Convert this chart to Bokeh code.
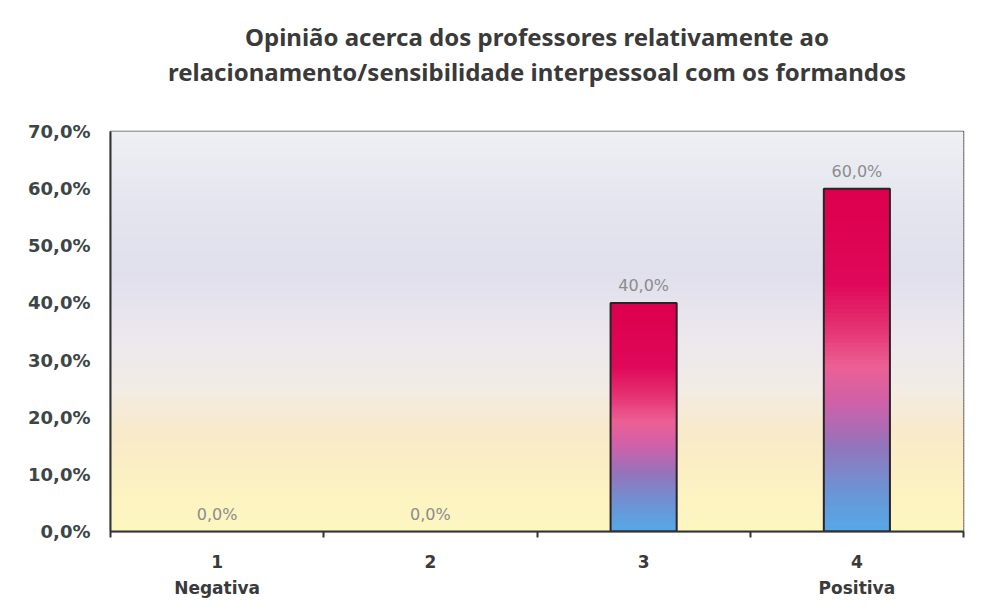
from bokeh.plotting import figure
from bokeh.models import FixedTicker, Range1d, ColumnDataSource, Title
from bokeh.embed import file_html
from bokeh.resources import INLINE
from bokeh.core.properties import value

# ---- data ----
categories = ["1", "2", "3", "4"]
category_notes = ["Negativa", "", "", "Positiva"]
values = [0.0, 0.0, 40.0, 60.0]
y_ticks = [0, 10, 20, 30, 40, 50, 60, 70]
title_lines = ["Opinião acerca dos professores relativamente ao",
               "relacionamento/sensibilidade interpessoal com os formandos"]

# ---- styling helpers ----
def hex2rgb(h):
    h = h.lstrip("#")
    return tuple(int(h[i:i + 2], 16) for i in (0, 2, 4))

def interp(stops, t):
    for (t0, c0), (t1, c1) in zip(stops[:-1], stops[1:]):
        if t0 <= t <= t1:
            f = 0 if t1 == t0 else (t - t0) / (t1 - t0)
            a, b = hex2rgb(c0), hex2rgb(c1)
            return "#%02x%02x%02x" % tuple(int(round(a[k] + (b[k] - a[k]) * f)) for k in range(3))
    return stops[-1][1]

bg_stops = [(0.0, "#fdf7c0"), (0.12, "#fcf1c2"), (0.25, "#f8eaca"), (0.36, "#f2ece6"),
            (0.5, "#ebe7ee"), (0.65, "#e0dfec"), (0.82, "#e5e5ef"), (1.0, "#eef0f3")]
bar_stops = [(0.0, "#55a8e8"), (0.12, "#6c94d4"), (0.25, "#9474bc"), (0.38, "#d060a8"),
             (0.48, "#ec6094"), (0.6, "#e43070"), (0.72, "#e0085a"), (1.0, "#dc004c")]

x = list(range(1, len(categories) + 1))
ymax = y_ticks[-1]

p = figure(width=967, height=605, output_backend="svg", toolbar_location=None,
           x_range=Range1d(0.5, len(categories) + 0.5), y_range=Range1d(0, ymax),
           min_border_left=110, min_border_right=4, min_border_top=20, min_border_bottom=74,
           background_fill_color="white", border_fill_color="white")

# panels stack outward from the frame: spacer, line 2, line 1, top spacer
p.add_layout(Title(text=" ", text_font_size="24px", standoff=9, text_font="Noto Sans",
                   text_line_height=1.1), "above")
for line in reversed(title_lines):
    p.add_layout(Title(text=line, align="center", text_font_size="24px", standoff=0,
                       text_font="Noto Sans", text_font_style="bold", text_color="#3a3a3a",
                       text_line_height=1.1), "above")
p.add_layout(Title(text=" ", text_font_size="10px", standoff=1, text_font="Noto Sans",
                   text_line_height=1.1), "above")
p.title.visible = False

# background gradient strips
N_BG = 140
bg = dict(bottom=[], top=[], color=[])
for i in range(N_BG):
    bg["bottom"].append(ymax * i / N_BG)
    bg["top"].append(ymax * (i + 1.6) / N_BG)
    bg["color"].append(interp(bg_stops, (i + 0.5) / N_BG))
p.quad(left=0.5, right=len(categories) + 0.5, bottom="bottom", top="top",
       fill_color="color", line_color=None, source=ColumnDataSource(bg))

# gradient bars
BAR_W = 0.31
N_SEG = 80
seg = dict(left=[], right=[], bottom=[], top=[], color=[])
for xi, v in zip(x, values):
    if v <= 0:
        continue
    for i in range(N_SEG):
        seg["left"].append(xi - BAR_W / 2)
        seg["right"].append(xi + BAR_W / 2)
        seg["bottom"].append(v * i / N_SEG)
        seg["top"].append(v * min(i + 1.8, N_SEG) / N_SEG)
        seg["color"].append(interp(bar_stops, (i + 0.5) / N_SEG))
p.quad(left="left", right="right", bottom="bottom", top="top",
       fill_color="color", line_color=None, source=ColumnDataSource(seg))

# bar outlines (only for non-zero bars)
nz = [(xi, v) for xi, v in zip(x, values) if v > 0]
p.vbar(x=[a for a, _ in nz], top=[b for _, b in nz], width=BAR_W, fill_alpha=0,
       line_color="#2b2328", line_width=2)

# data labels
labels = ColumnDataSource(dict(x=x, top=values,
                               label=[("%.1f%%" % v).replace(".", ",") for v in values]))
p.text(x="x", y="top", text="label", source=labels, text_align="center",
       text_baseline="bottom", y_offset=-8, text_font=value("DejaVu Sans"),
       text_font_size="16px", text_color="#8c8c8c")

# frame
p.outline_line_color = "#555555"
p.outline_line_width = 1.5
p.grid.visible = False

# y axis
p.yaxis.ticker = FixedTicker(ticks=y_ticks)
p.yaxis.major_label_overrides = {t: ("%.1f%%" % t).replace(".", ",") for t in y_ticks}
p.yaxis.major_label_text_font = "DejaVu Sans"
p.yaxis.major_label_text_font_style = "bold"
p.yaxis.major_label_text_font_size = "18px"
p.yaxis.major_label_text_color = "#3d4646"
p.yaxis.major_tick_out = 0
p.yaxis.major_tick_in = 0
p.yaxis.minor_tick_out = 0
p.yaxis.minor_tick_in = 0
p.yaxis.axis_line_color = "#333333"
p.yaxis.axis_line_width = 2
p.yaxis.major_label_standoff = 20

# x axis
p.xaxis.ticker = FixedTicker(ticks=x, minor_ticks=[xi + 0.5 for xi in [0] + x])
p.xaxis.major_label_overrides = {
    xi: (c + ("\n" + n if n else "")) for xi, c, n in zip(x, categories, category_notes)}
p.xaxis.major_label_text_font = "DejaVu Sans"
p.xaxis.major_label_text_font_style = "bold"
p.xaxis.major_label_text_font_size = "17px"
p.xaxis.major_label_text_color = "#3a3a3a"
p.xaxis.major_label_text_line_height = 1.3
p.xaxis.major_tick_out = 0
p.xaxis.major_tick_in = 0
p.xaxis.minor_tick_out = 6
p.xaxis.minor_tick_in = 0
p.xaxis.minor_tick_line_color = "#333333"
p.xaxis.minor_tick_line_width = 2
p.xaxis.axis_line_color = "#333333"
p.xaxis.axis_line_width = 2
p.xaxis.major_label_standoff = 14

open("out.html", "w").write(file_html(p, INLINE))
